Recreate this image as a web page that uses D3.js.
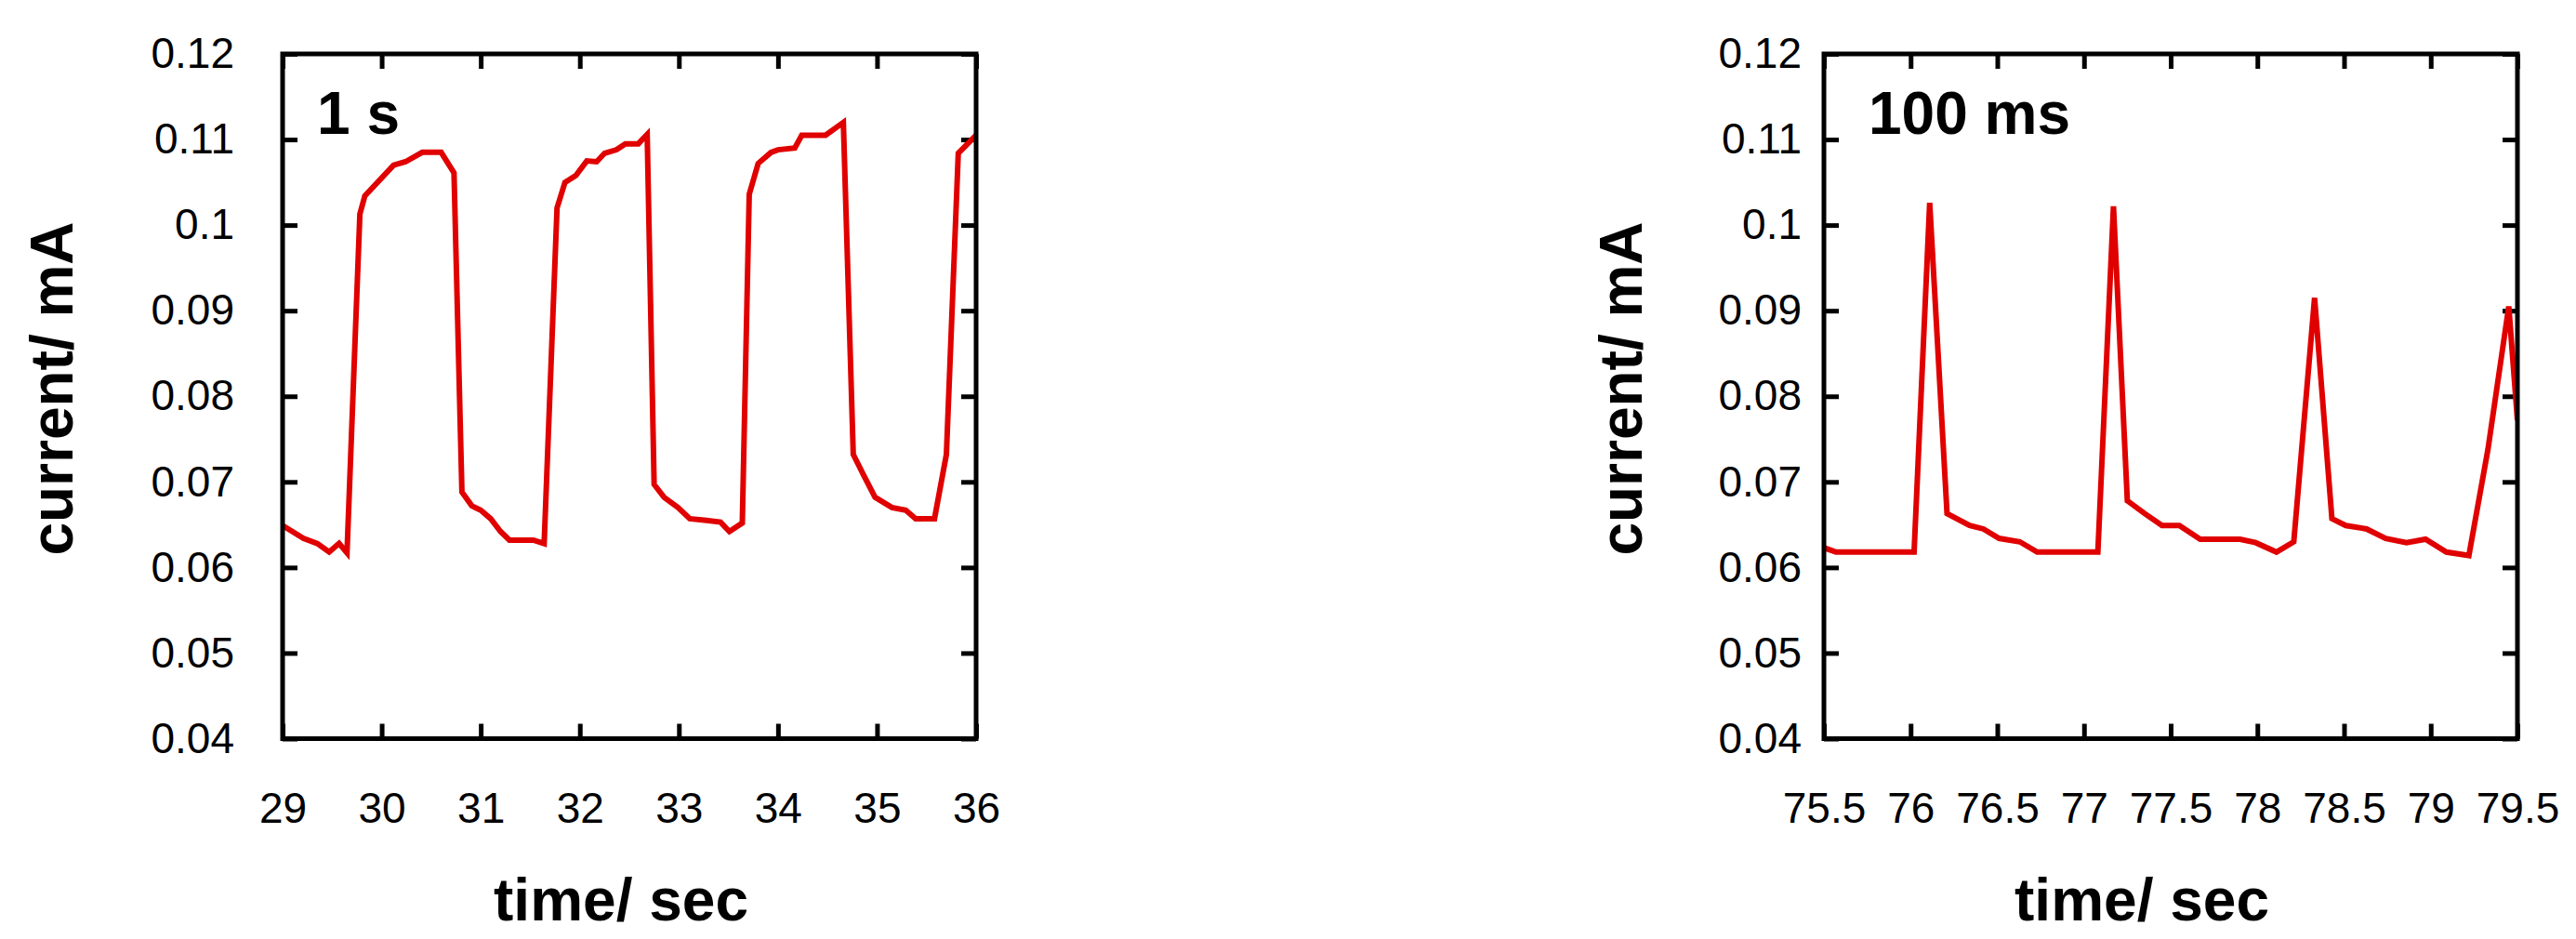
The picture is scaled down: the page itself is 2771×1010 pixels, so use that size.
<!DOCTYPE html>
<meta charset="utf-8">
<style>
body { margin: 0; background: #fff; }
svg { font-family: "Liberation Sans", Arial, sans-serif; }
.frame { fill: none; stroke: #000; stroke-width: 5; }
.ticks line { stroke: #000; stroke-width: 5; }
.ticks .domain, .labels .domain { display: none; }
.labels text { font-size: 46px; fill: #000; }
.title { font-size: 64px; font-weight: bold; fill: #000; }
.trace { fill: none; stroke: #e00000; stroke-width: 6; }
</style>
<body>
<script src="https://d3js.org/d3.v7.min.js"></script>
<script>
// current trace, 1 s pulses
var time1 = [29, 29.21, 29.35, 29.47, 29.57, 29.65, 29.78, 29.83, 30.12, 30.24, 30.41, 30.6, 30.73, 30.81, 30.91, 31.0, 31.1, 31.2, 31.29, 31.53, 31.64, 31.77, 31.85, 31.96, 32.07, 32.17, 32.25, 32.37, 32.46, 32.59, 32.68, 32.75, 32.85, 32.99, 33.11, 33.28, 33.42, 33.51, 33.64, 33.71, 33.8, 33.93, 34.0, 34.17, 34.24, 34.48, 34.66, 34.76, 34.86, 34.98, 35.15, 35.29, 35.39, 35.58, 35.7, 35.82, 36];
var current1 = [0.0649, 0.0634, 0.0628, 0.0618, 0.0628, 0.0617, 0.1013, 0.1034, 0.1070, 0.1074, 0.1085, 0.1085, 0.1061, 0.0688, 0.0672, 0.0667, 0.0657, 0.0642, 0.0632, 0.0632, 0.0628, 0.1020, 0.1050, 0.1058, 0.1075, 0.1074, 0.1084, 0.1088, 0.1095, 0.1095, 0.1106, 0.0697, 0.0682, 0.0670, 0.0657, 0.0655, 0.0653, 0.0642, 0.0652, 0.1036, 0.1072, 0.1085, 0.1088, 0.1090, 0.1105, 0.1105, 0.1120, 0.0732, 0.0709, 0.0682, 0.0670, 0.0667, 0.0657, 0.0657, 0.0732, 0.1084, 0.1105];

// current trace, 100 ms pulses
var time2 = [75.5, 75.57, 76.02, 76.11, 76.21, 76.34, 76.42, 76.51, 76.63, 76.73, 77.08, 77.17, 77.25, 77.35, 77.45, 77.55, 77.67, 77.9, 77.99, 78.11, 78.21, 78.33, 78.43, 78.51, 78.63, 78.74, 78.86, 78.97, 79.09, 79.22, 79.33, 79.45, 79.5];
var current2 = [0.0623, 0.0618, 0.0618, 0.1026, 0.0663, 0.0649, 0.0645, 0.0634, 0.0630, 0.0618, 0.0618, 0.1022, 0.0678, 0.0663, 0.0649, 0.0649, 0.0633, 0.0633, 0.0629, 0.0618, 0.0630, 0.0915, 0.0657, 0.0649, 0.0645, 0.0634, 0.0629, 0.0633, 0.0618, 0.0614, 0.0738, 0.0905, 0.0772];

var yTicks = [0.04, 0.05, 0.06, 0.07, 0.08, 0.09, 0.1, 0.11, 0.12];
var xTicks1 = [29, 30, 31, 32, 33, 34, 35, 36];
var xTicks2 = [75.5, 76, 76.5, 77, 77.5, 78, 78.5, 79, 79.5];

var width = 2771, height = 1010;
var svg = d3.select("body").append("svg")
    .attr("width", width)
    .attr("height", height);

var panels = [
    {id: "p1", left: 304, time: time1, current: current1, xTicks: xTicks1, label: "1 s",
     yPad: 52, yTitleX: 78, xTitleX: 668, labelX: 37},
    {id: "p2", left: 1962, time: time2, current: current2, xTicks: xTicks2, label: "100 ms",
     yPad: 24, yTitleX: 1766, xTitleX: 2304, labelX: 48}
];

var plotTop = 58, w = 746, h = 736.5;

panels.forEach(function(p) {
    var x = d3.scaleLinear()
        .domain(d3.extent(p.xTicks))
        .range([0, w]);
    var y = d3.scaleLinear()
        .domain([0.04, 0.12])
        .range([h, 0]);

    var g = svg.append("g")
        .attr("transform", "translate(" + p.left + "," + plotTop + ")");

    g.append("clipPath").attr("id", "clip-" + p.id)
        .append("rect").attr("width", w).attr("height", h);

    // inward ticks on all four sides
    g.append("g").attr("class", "ticks")
        .attr("transform", "translate(0," + h + ")")
        .call(d3.axisBottom(x).tickValues(p.xTicks).tickSize(-16).tickFormat(""));
    g.append("g").attr("class", "ticks")
        .call(d3.axisTop(x).tickValues(p.xTicks).tickSize(-16).tickFormat(""));
    g.append("g").attr("class", "ticks")
        .call(d3.axisLeft(y).tickValues(yTicks).tickSize(-16).tickFormat(""));
    g.append("g").attr("class", "ticks")
        .attr("transform", "translate(" + w + ",0)")
        .call(d3.axisRight(y).tickValues(yTicks).tickSize(-16).tickFormat(""));

    // tick labels
    var xl = g.append("g").attr("class", "labels")
        .attr("transform", "translate(0," + h + ")")
        .call(d3.axisBottom(x).tickValues(p.xTicks).tickSize(0)
            .tickFormat(function(d) { return String(+d.toFixed(1)); }));
    xl.selectAll("line").remove();
    xl.selectAll("text").attr("y", 90).attr("dy", null);

    var yl = g.append("g").attr("class", "labels")
        .call(d3.axisLeft(y).tickValues(yTicks).tickSize(0).tickPadding(p.yPad)
            .tickFormat(function(d) { return String(+d.toFixed(2)); }));
    yl.selectAll("line").remove();

    var line = d3.line()
        .x(function(d) { return x(d[0]); })
        .y(function(d) { return y(d[1]); });

    g.append("path")
        .datum(d3.zip(p.time, p.current))
        .attr("class", "trace")
        .attr("clip-path", "url(#clip-" + p.id + ")")
        .attr("d", line);

    g.append("rect").attr("class", "frame")
        .attr("width", w).attr("height", h);

    g.append("text").attr("class", "title")
        .attr("x", p.labelX)
        .attr("y", 86)
        .text(p.label);

    svg.append("text").attr("class", "title")
        .attr("text-anchor", "middle")
        .attr("x", p.xTitleX).attr("y", 990)
        .text("time/ sec");

    svg.append("text").attr("class", "title")
        .attr("text-anchor", "middle")
        .attr("transform", "translate(" + p.yTitleX + ",418) rotate(-90)")
        .text("current/ mA");
});
</script>
</body>
